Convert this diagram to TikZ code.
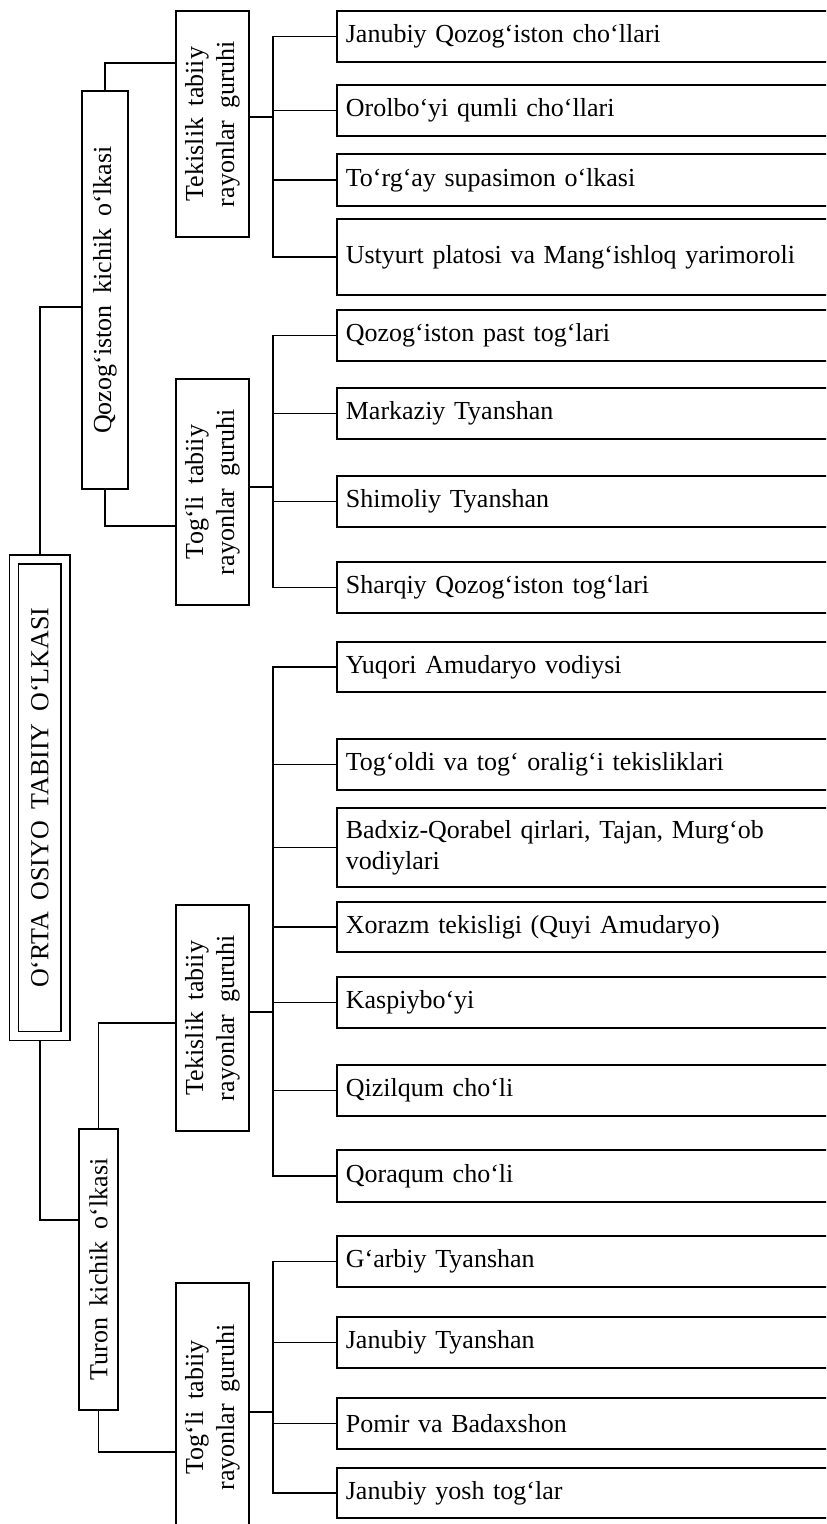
\documentclass[tikz,border=0pt]{standalone}
\usepackage{fontspec}
\setmainfont{Liberation Serif}[WordSpace=1.8]
\usepackage{graphicx}
\usetikzlibrary{positioning}

\newcommand{\vlab}[2]{\rotatebox{90}{\begin{tabular}{@{}c@{}}#1\\#2\end{tabular}}}

\tikzset{
  link/.style={line width=0.85pt},
  box/.style={draw, line width=0.85pt, inner sep=0pt,
    font=\fontsize{13}{15.5}\selectfont},
  region/.style={box, anchor=west, text width=243pt, align=left,
    inner xsep=4.5pt, minimum height=25.5pt},
  group/.style={box, minimum width=36.5pt, minimum height=113pt}
}

\begin{document}
\begin{tikzpicture}[x=0.5pt, y=-0.5pt]
  % Frame
  \useasboundingbox (0,0) rectangle (826,1524);
  \fill[white] (0,0) rectangle (826,1524);
  \clip (0,0) rectangle (826,1524);

  % Root
  \node[box, double, double distance=3.65pt, outer sep=2.68pt,
    minimum width=25.75pt, minimum height=238.25pt] (root) at (39.75,797.75)
    {\rotatebox{90}{O‘RTA OSIYO TABIIY O‘LKASI}};

  % Small regions
  \node[box, minimum width=23pt, minimum height=199pt] (qoz) at (105,290)
    {\rotatebox{90}{Qozog‘iston kichik o‘lkasi}};
  \node[box, minimum width=19.5pt, minimum height=140.5pt] (turon) at (98.5,1269.5)
    {\rotatebox{90}{Turon kichik o‘lkasi}};

  % Groups
  \node[group] (tek1) at (212.5,124) {\vlab{Tekislik tabiiy}{rayonlar guruhi}};
  \node[group] (tog1) at (212.5,492) {\vlab{Tog‘li tabiiy}{rayonlar guruhi}};
  \node[group] (tek2) at (212.5,1018) {\vlab{Tekislik tabiiy}{rayonlar guruhi}};
  \node[group, minimum height=124.5pt] (tog2) at (212.5,1407.5)
    {\vlab{Tog‘li tabiiy}{rayonlar guruhi}};

  % Regions: Qozog'iston, plains
  \node[region] (q1) at (336,36.5) {Janubiy Qozog‘iston cho‘llari};
  \node[region] (q2) at (336,110.5) {Orolbo‘yi qumli cho‘llari};
  \node[region, minimum height=26pt] (q3) at (336,180) {To‘rg‘ay supasimon o‘lkasi};
  \node[region, minimum height=38pt] (q4) at (336,257) {Ustyurt platosi va Mang‘ishloq yarimoroli};

  % Regions: Qozog'iston, mountains
  \node[region] (q5) at (336,335.5) {Qozog‘iston past tog‘lari};
  \node[region] (q6) at (336,413.5) {Markaziy Tyanshan};
  \node[region] (q7) at (336,501.5) {Shimoliy Tyanshan};
  \node[region] (q8) at (336,587.5) {Sharqiy Qozog‘iston tog‘lari};

  % Regions: Turon, plains
  \node[region, minimum height=25pt] (t1) at (336,667) {Yuqori Amudaryo vodiysi};
  \node[region] (t2) at (336,764.5) {Tog‘oldi va tog‘ oralig‘i tekisliklari};
  \node[region, minimum height=39.5pt] (t3) at (336,847.5)
    {Badxiz-Qorabel qirlari, Tajan, Murg‘ob\\vodiylari};
  \node[region, minimum height=25pt] (t4) at (336,927) {Xorazm tekisligi (Quyi Amudaryo)};
  \node[region] (t5) at (336,1002.5) {Kaspiybo‘yi};
  \node[region] (t6) at (336,1090.5) {Qizilqum cho‘li};
  \node[region, minimum height=26pt] (t7) at (336,1176) {Qoraqum cho‘li};

  % Regions: Turon, mountains
  \node[region] (m1) at (336,1261.5) {G‘arbiy Tyanshan};
  \node[region] (m2) at (336,1342.5) {Janubiy Tyanshan};
  \node[region] (m3) at (336,1423.5) {Pomir va Badaxshon};
  \node[region, minimum height=25pt] (m4) at (336,1493) {Janubiy yosh tog‘lar};

  % Left connectors
  \draw[link] (root.north) |- ([yshift=-8.5pt]qoz.west);
  \draw[link] (root.south) |- ([yshift=24.75pt]turon.west);
  \draw[link] (qoz.north) |- ([yshift=30.5pt]tek1.west);
  \draw[link] (qoz.south) |- ([yshift=-17pt]tog1.west);
  \draw[link] (turon.north) |- ([yshift=-2.5pt]tek2.west);
  \draw[link] (turon.south) |- ([yshift=-22.25pt]tog2.west);

  % Buses
  \coordinate (bus) at (273,0);
  \draw[link] ([yshift=3.5pt]tek1.east) -- ++(24,0);
  \draw[link] ([yshift=2.5pt]tog1.east) -- ++(24,0);
  \draw[link] ([yshift=3pt]tek2.east) -- ++(24,0);
  \draw[link] ([yshift=-2.25pt]tog2.east) -- ++(24,0);

  \draw[link] (q1.west) -- (q1.west -| bus) -- (q4.west -| bus) -- (q4.west);
  \draw[link] (q5.west) -- (q5.west -| bus) -- (q8.west -| bus) -- (q8.west);
  \draw[link] (t1.west) -- (t1.west -| bus) -- (t7.west -| bus) -- (t7.west);
  \draw[link] (m1.west) -- (m1.west -| bus) -- (m4.west -| bus) -- (m4.west);

  \foreach \n in {q2,q3,q6,q7,t2,t3,t4,t5,t6,m2,m3}
    \draw[link] (\n.west) -- (\n.west -| bus);
\end{tikzpicture}
\end{document}
